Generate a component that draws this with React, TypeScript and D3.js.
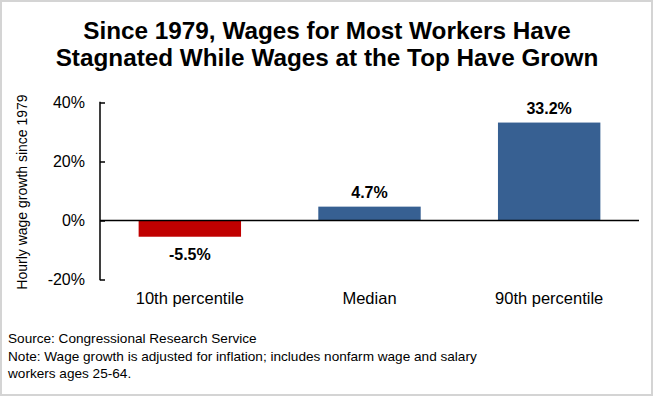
import React, { useEffect, useRef } from "react";
import * as d3 from "d3";

const categories = ["10th percentile", "Median", "90th percentile"];
const values = [-5.5, 4.7, 33.2];
const yTicks = [-20, 0, 20, 40];
const titleLines = [
  "Since 1979, Wages for Most Workers Have",
  "Stagnated While Wages at the Top Have Grown",
];
const footLines = [
  "Source: Congressional Research Service",
  "Note: Wage growth is adjusted for inflation; includes nonfarm wage and salary",
  "workers ages 25-64.",
];

const width = 653;
const height = 396;
const font = "Liberation Sans, Arial, sans-serif";

const App = () => {
  const ref = useRef<SVGSVGElement>(null);

  useEffect(() => {
    const svg = d3.select(ref.current);
    svg.selectAll("*").remove();

    svg
      .append("rect")
      .attr("x", 1)
      .attr("y", 1)
      .attr("width", width - 2)
      .attr("height", height - 2)
      .attr("fill", "#fff")
      .attr("stroke", "#d4d4d4")
      .attr("stroke-width", 2);

    svg
      .selectAll("text.title")
      .data(titleLines)
      .enter()
      .append("text")
      .attr("x", 327)
      .attr("y", (d, i) => 38.5 + i * 27.5)
      .attr("text-anchor", "middle")
      .attr("font-family", font)
      .attr("font-weight", "bold")
      .attr("font-size", "24.3px")
      .text((d) => d);

    const x = d3
      .scaleBand()
      .domain(categories)
      .range([100, 639])
      .paddingInner(0.43)
      .paddingOuter(0.215);

    const y = d3.scaleLinear().domain([-20, 40]).range([279.5, 102.5]);

    // y axis, ticks point inward
    const axis = d3
      .axisLeft(y)
      .tickValues(yTicks)
      .tickSize(-5)
      .tickPadding(15)
      .tickFormat((d) => `${d}%`);
    const g = svg.append("g").attr("transform", "translate(100,0)").call(axis);
    g.select(".domain").remove();
    g.selectAll(".tick line").attr("stroke", "#000").attr("stroke-width", 1.5).attr("x1", 0).attr("x2", 5);
    g.selectAll(".tick text")
      .attr("font-family", font)
      .attr("font-size", "16px")
      .attr("fill", "#000");
    svg
      .append("rect")
      .attr("x", 99.25)
      .attr("y", y(40) - 0.75)
      .attr("width", 1.5)
      .attr("height", y(-20) - y(40) + 1.5)
      .attr("fill", "#000");

    svg
      .append("text")
      .attr("transform", `translate(27,192) rotate(-90)`)
      .attr("text-anchor", "middle")
      .attr("font-family", font)
      .attr("font-size", "14px")
      .text("Hourly wage growth since 1979");

    svg
      .selectAll("rect.bar")
      .data(values)
      .enter()
      .append("rect")
      .attr("x", (d, i) => x(categories[i]))
      .attr("y", (d) => y(Math.max(0, d)))
      .attr("width", x.bandwidth())
      .attr("height", (d) => Math.abs(y(d) - y(0)))
      .attr("fill", (d) => (d < 0 ? "#c00000" : "#376092"));

    svg
      .append("line")
      .attr("x1", 100)
      .attr("x2", 639)
      .attr("y1", y(0))
      .attr("y2", y(0))
      .attr("stroke", "#000")
      .attr("stroke-width", 1.5);

    svg
      .selectAll("text.val")
      .data(values)
      .enter()
      .append("text")
      .attr("x", (d, i) => x(categories[i]) + x.bandwidth() / 2)
      .attr("y", (d) => (d < 0 ? y(d) + 23 : y(d) - 8.5))
      .attr("text-anchor", "middle")
      .attr("font-family", font)
      .attr("font-weight", "bold")
      .attr("font-size", "16px")
      .text((d) => `${d.toFixed(1)}%`);

    svg
      .selectAll("text.cat")
      .data(categories)
      .enter()
      .append("text")
      .attr("x", (d) => x(d) + x.bandwidth() / 2)
      .attr("y", 304)
      .attr("text-anchor", "middle")
      .attr("font-family", font)
      .attr("font-size", "16.5px")
      .text((d) => d);

    svg
      .selectAll("text.foot")
      .data(footLines)
      .enter()
      .append("text")
      .attr("x", 8)
      .attr("y", (d, i) => 343 + i * 17.5)
      .attr("font-family", font)
      .attr("font-size", "13.6px")
      .text((d) => d);
  }, []);

  return (
    <svg
      ref={ref}
      width={width}
      height={height}
      style={{ position: "absolute", left: 0, top: 0, display: "block" }}
    ></svg>
  );
};

export default App;
